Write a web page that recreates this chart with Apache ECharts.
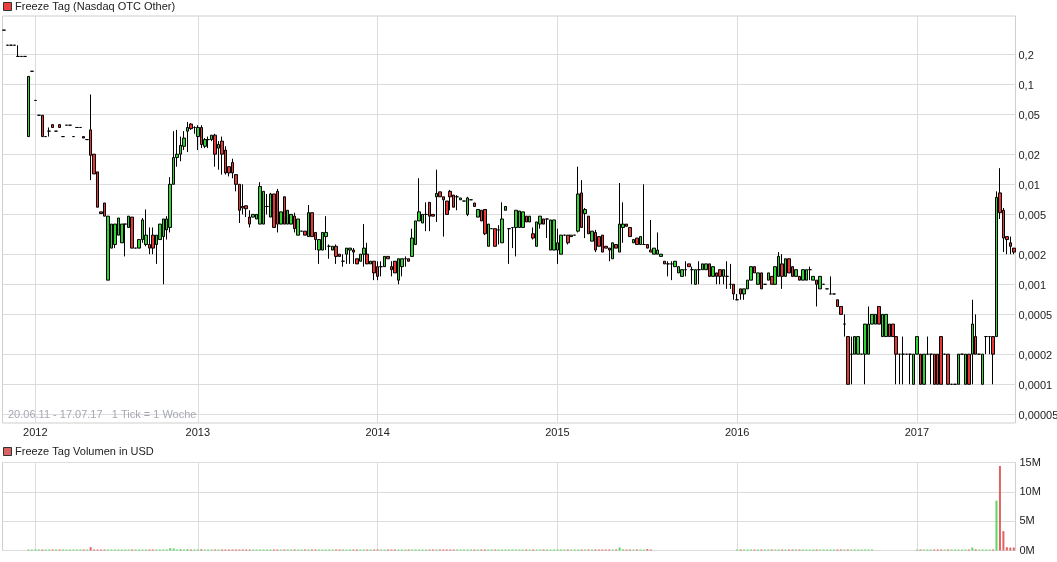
<!DOCTYPE html>
<html><head><meta charset="utf-8">
<script src="https://cdn.jsdelivr.net/npm/echarts@6/dist/echarts.min.js"></script>
<style>html,body{margin:0;padding:0;background:#fff}#c{width:1057px;height:562px}</style>
</head><body><div id="c"></div>
<script>
// weekly candles [open, close, low, high]
const candles2011 = [
[0.348,0.348,0.348,0.348],[0.246,0.246,0.246,0.246],[0.246,0.246,0.246,0.246],[0.246,0.246,0.246,0.246],
[0.19,0.19,0.19,0.246],[0.19,0.19,0.19,0.19],[0.19,0.19,0.19,0.19],[0.03,0.12,0.03,0.12],[0.135,0.135,0.135,0.135]
];
const candles2012 = [
[0.069,0.069,0.069,0.069],[0.049,0.049,0.049,0.049],[0.049,0.03,0.03,0.049],[0.03,0.03,0.03,0.03],
[0.034,0.034,0.03,0.037],[0.0395,0.037,0.037,0.0395],[0.034,0.034,0.034,0.034],[0.0395,0.037,0.037,0.0395],
[0.03,0.03,0.03,0.03],[0.039,0.039,0.039,0.039],[0.039,0.039,0.039,0.039],[0.03,0.03,0.03,0.03],
[0.037,0.037,0.037,0.037],[0.037,0.037,0.037,0.037],[0.03,0.029,0.029,0.03],[0.028,0.028,0.028,0.028],
[0.035,0.0195,0.011,0.079],[0.02,0.0127,0.0127,0.02],[0.0133,0.0059,0.0059,0.0133],[0.0053,0.0051,0.0051,0.0053],
[0.0065,0.0048,0.0048,0.0065],[0.0011,0.0048,0.0011,0.0048],[0.0023,0.004,0.0023,0.004],[0.0025,0.004,0.0023,0.004],
[0.0031,0.0046,0.0031,0.0046],[0.0026,0.004,0.0026,0.004],[0.004,0.004,0.0019,0.004],[0.0037,0.0048,0.0037,0.0048],
[0.0047,0.0023,0.0023,0.0047],[0.0023,0.0023,0.0023,0.0023],[0.0023,0.0028,0.0023,0.0028],[0.0028,0.0044,0.0026,0.0046],
[0.0025,0.0031,0.0024,0.0056],[0.0025,0.0023,0.002,0.0037],[0.0031,0.0023,0.002,0.0037],[0.0025,0.0031,0.0016,0.0031],
[0.0028,0.004,0.0028,0.004],[0.003,0.0045,0.001,0.0045],[0.0035,0.0045,0.0028,0.0048],[0.0037,0.01,0.0033,0.0118],
[0.01,0.0185,0.01,0.034],[0.0185,0.02,0.015,0.035],[0.02,0.0245,0.017,0.03],[0.024,0.029,0.022,0.034],
[0.034,0.037,0.021,0.042],[0.04,0.036,0.035,0.041],[0.037,0.037,0.032,0.038]
];
const candles2013 = [
[0.03,0.037,0.022,0.039],[0.037,0.025,0.023,0.039],[0.024,0.028,0.023,0.029],[0.028,0.028,0.023,0.03],
[0.028,0.031,0.027,0.031],[0.031,0.02,0.015,0.032],[0.023,0.025,0.014,0.027],[0.027,0.02,0.0125,0.03],
[0.022,0.013,0.0125,0.024],[0.015,0.013,0.012,0.015],[0.0165,0.013,0.0115,0.018],[0.0125,0.01,0.0085,0.0125],
[0.01,0.0055,0.0041,0.01],[0.006,0.0058,0.005,0.01],[0.0061,0.0057,0.0047,0.0061],[0.0047,0.004,0.0037,0.0055],
[0.0047,0.005,0.0047,0.005],[0.0045,0.005,0.0045,0.005],[0.004,0.0095,0.004,0.0105],[0.004,0.0085,0.004,0.0085],
[0.006,0.006,0.005,0.008],[0.0047,0.008,0.0047,0.0082],[0.008,0.0037,0.0037,0.008],[0.0085,0.004,0.0033,0.009],
[0.004,0.0053,0.004,0.0053],[0.0075,0.004,0.004,0.0075],[0.004,0.0055,0.004,0.0055],[0.004,0.005,0.004,0.005],
[0.0048,0.0036,0.0033,0.0052],[0.0031,0.0045,0.0031,0.0045],[0.0034,0.0034,0.0034,0.0034],[0.0034,0.0031,0.0031,0.0034],
[0.003,0.0052,0.003,0.0062],[0.0052,0.003,0.003,0.0052],[0.0033,0.0028,0.0022,0.0033],[0.0022,0.0028,0.0016,0.0028],
[0.0022,0.0033,0.0022,0.0033],[0.003,0.0033,0.0022,0.0048],[0.0024,0.0024,0.0018,0.0025],[0.0022,0.0024,0.0022,0.0024],
[0.0024,0.0019,0.0016,0.0025],[0.002,0.0019,0.0019,0.002],[0.0017,0.0017,0.0015,0.002],[0.002,0.0023,0.0016,0.0023],
[0.0022,0.0023,0.0016,0.0023],[0.0022,0.0021,0.0016,0.0023],[0.0018,0.0016,0.0016,0.0018],[0.0017,0.002,0.0017,0.002],
[0.002,0.0023,0.0015,0.004],[0.002,0.0016,0.0016,0.0026],[0.0016,0.0017,0.0016,0.0017],[0.0017,0.0013,0.0011,0.0017]
];
const candles2014 = [
[0.0015,0.0012,0.0011,0.0017],[0.0015,0.0015,0.0012,0.0017],[0.0015,0.0019,0.0015,0.0019],[0.0019,0.0018,0.0018,0.0019],
[0.0015,0.0014,0.0012,0.0017],[0.0017,0.0013,0.0013,0.0017],[0.0011,0.0018,0.001,0.0018],[0.0015,0.0018,0.0012,0.0018],
[0.0018,0.0018,0.0015,0.0019],[0.0018,0.0017,0.0017,0.0018],[0.0019,0.0029,0.0019,0.0036],[0.0025,0.0043,0.0025,0.0043],
[0.0043,0.0053,0.0043,0.0115],[0.0041,0.005,0.0041,0.005],[0.005,0.005,0.0034,0.0066],[0.0066,0.0048,0.0034,0.0066],
[0.005,0.0048,0.0048,0.005],[0.0075,0.0081,0.0042,0.014],[0.0084,0.0075,0.0075,0.0084],[0.0075,0.007,0.003,0.0075],
[0.0068,0.005,0.005,0.0068],[0.0085,0.0075,0.0055,0.0088],[0.0078,0.0059,0.0059,0.0078],[0.0075,0.0075,0.0055,0.0078],
[0.007,0.0073,0.007,0.0073],[0.0068,0.0068,0.0068,0.0068],[0.005,0.0073,0.0048,0.0075],[0.007,0.007,0.007,0.007],
[0.0065,0.006,0.006,0.0065],[0.0047,0.0056,0.0047,0.0056],[0.0055,0.0043,0.0043,0.0055],[0.0056,0.0032,0.0031,0.0056],
[0.0024,0.004,0.0024,0.004],[0.0036,0.0036,0.0036,0.0036],[0.0036,0.0024,0.0024,0.0036],[0.0035,0.0035,0.0025,0.0039],
[0.0026,0.0045,0.0026,0.0066],[0.0055,0.006,0.0055,0.006],[0.0036,0.0036,0.0016,0.0036],[0.0037,0.0037,0.0023,0.0037],
[0.0037,0.0055,0.0019,0.0055],[0.0037,0.0054,0.0037,0.0054],[0.0037,0.0053,0.0037,0.0053],[0.0048,0.0042,0.0042,0.0048],
[0.0042,0.0048,0.0042,0.0048],[0.0032,0.0029,0.0028,0.0037],[0.0024,0.0042,0.0024,0.0042],[0.004,0.0048,0.0036,0.0048],
[0.0045,0.004,0.004,0.0045],[0.0045,0.0045,0.0029,0.0045],[0.0022,0.0044,0.0022,0.0044],[0.0022,0.0044,0.0022,0.0044]
];
const candles2015 = [
[0.0022,0.0026,0.0016,0.0036],[0.002,0.0031,0.002,0.0031],[0.0031,0.0031,0.0031,0.0031],[0.0031,0.0026,0.0025,0.0031],
[0.003,0.0031,0.003,0.0031],[0.0031,0.0031,0.0031,0.0031],[0.0034,0.008,0.0033,0.015],[0.0082,0.0037,0.0037,0.011],
[0.0051,0.0056,0.0029,0.0058],[0.0048,0.0032,0.0032,0.0048],[0.0027,0.0034,0.0027,0.0034],[0.0033,0.0022,0.0021,0.0035],
[0.003,0.0024,0.0024,0.003],[0.0031,0.0021,0.0021,0.0031],[0.0024,0.0023,0.0023,0.0024],[0.0023,0.0022,0.0017,0.0023],
[0.0018,0.0026,0.0018,0.0026],[0.0025,0.0023,0.0023,0.0025],[0.0021,0.004,0.0021,0.0103],[0.0037,0.004,0.0026,0.0066],
[0.004,0.0038,0.0038,0.004],[0.0037,0.003,0.003,0.0037],[0.0026,0.0028,0.0026,0.0028],[0.0029,0.0025,0.0025,0.0029],
[0.0025,0.003,0.0025,0.003],[0.0025,0.0025,0.0025,0.01],[0.0025,0.0023,0.0023,0.0025],[0.0022,0.0021,0.0021,0.0044],
[0.002,0.0023,0.002,0.0023],[0.002,0.0022,0.002,0.0033],[0.0019,0.002,0.0019,0.002],[0.0017,0.0016,0.0016,0.0017],
[0.0016,0.0016,0.0012,0.0017],[0.0016,0.0016,0.0011,0.0017],[0.0015,0.0017,0.0015,0.0017],[0.0013,0.0015,0.0013,0.0015],
[0.0012,0.0014,0.0012,0.0014],[0.0014,0.0014,0.0012,0.0017],[0.0016,0.0015,0.0015,0.0016],[0.0014,0.0014,0.001,0.0015],
[0.001,0.0014,0.001,0.0014],[0.0014,0.0014,0.001,0.0017],[0.0014,0.0016,0.0014,0.0016],[0.0014,0.0016,0.0014,0.0016],
[0.0016,0.0012,0.0012,0.0016],[0.0012,0.0015,0.0012,0.0015],[0.0013,0.0012,0.001,0.0013],[0.0014,0.0012,0.001,0.0014],
[0.0012,0.0014,0.001,0.0014],[0.0012,0.0012,0.0009,0.0017],[0.001,0.001,0.0009,0.0016],[0.001,0.0008,0.0007,0.001]
];
const candles2016 = [
[0.0007,0.0007,0.0007,0.0008],[0.0009,0.0008,0.0007,0.0009],[0.0008,0.0009,0.0007,0.0009],[0.0009,0.0011,0.0009,0.0011],
[0.0011,0.0015,0.0011,0.0015],[0.0015,0.0013,0.0013,0.0015],[0.001,0.0013,0.001,0.0013],[0.0013,0.0009,0.0009,0.0013],
[0.001,0.001,0.001,0.001],[0.0011,0.0013,0.0011,0.0013],[0.0012,0.001,0.001,0.0012],[0.001,0.0015,0.001,0.0015],
[0.0012,0.0019,0.0012,0.0021],[0.0016,0.0012,0.0009,0.002],[0.0012,0.0018,0.0012,0.0018],[0.0018,0.0013,0.0013,0.0018],
[0.0015,0.0012,0.0012,0.0015],[0.0012,0.0014,0.0012,0.0014],[0.0012,0.0011,0.0011,0.0012],[0.0011,0.0014,0.0011,0.0014],
[0.0011,0.0014,0.0011,0.0014],[0.0014,0.0014,0.0011,0.0015],[0.0011,0.0012,0.0011,0.0012],[0.0011,0.001,0.0006,0.0011],
[0.0009,0.0012,0.0009,0.0012],[0.001,0.001,0.001,0.001],[0.0009,0.0009,0.0009,0.0009],[0.0008,0.0008,0.0008,0.0012],
[0.0008,0.0008,0.0008,0.0008],[0.0007,0.0006,0.0006,0.0007],[0.0006,0.0005,0.0005,0.0006],[0.0004,0.0004,0.0003,0.0005],
[0.0003,0.0001,0.0001,0.0003],[0.0002,0.0002,0.0001,0.0003],[0.0002,0.0003,0.0002,0.0003],[0.0002,0.0003,0.0002,0.0003],
[0.0002,0.0002,0.0002,0.0002],[0.0002,0.0004,0.0001,0.0004],[0.0002,0.0004,0.0002,0.0006],[0.0004,0.0005,0.0004,0.0005],
[0.0004,0.0005,0.0004,0.0005],[0.0006,0.0004,0.0004,0.0006],[0.0003,0.0005,0.0003,0.0005],[0.0003,0.0005,0.0003,0.0005],
[0.0004,0.0003,0.0003,0.0004],[0.0004,0.0003,0.0003,0.0004],[0.0003,0.0002,0.0001,0.0003],[0.0002,0.0002,0.0001,0.0002],
[0.0002,0.0002,0.0001,0.0003],[0.0002,0.0002,0.0002,0.0002],[0.0002,0.0002,0.0001,0.0002],[0.0001,0.0002,0.0001,0.0002]
];
const candles2017 = [
[0.0002,0.0003,0.0002,0.0003],[0.0002,0.0001,0.0001,0.0002],[0.0001,0.0002,0.0001,0.0002],[0.0002,0.0002,0.0002,0.0003],
[0.0002,0.0002,0.0001,0.0002],[0.0002,0.0001,0.0001,0.0002],[0.0002,0.0001,0.0001,0.0002],[0.0003,0.0001,0.0001,0.0003],
[0.0002,0.0002,0.0002,0.0002],[0.0002,0.0001,0.0001,0.0002],[0.0001,0.0001,0.0001,0.0001],[0.0001,0.0001,0.0001,0.0001],
[0.0001,0.0002,0.0001,0.0002],[0.0002,0.0002,0.0002,0.0002],[0.0001,0.0002,0.0001,0.0002],[0.0002,0.0001,0.0001,0.0002],
[0.0002,0.0004,0.0001,0.0007],[0.0003,0.0002,0.0002,0.0005],[0.0002,0.0002,0.0002,0.0002],[0.0001,0.0002,0.0001,0.0002],
[0.0003,0.0003,0.0002,0.0003],[0.0003,0.0003,0.0002,0.0003],[0.0003,0.0002,0.0001,0.0003],[0.0003,0.0074,0.0003,0.0085],
[0.0082,0.0052,0.0045,0.0145],[0.0055,0.0029,0.0021,0.0058],[0.003,0.0028,0.002,0.003],[0.0026,0.0024,0.002,0.003],
[0.0023,0.0021,0.002,0.0023]
];
// weekly volume in USD
const volume2011 = [0,0,0,0,0,0,0,20000,20000];
const volume2012 = [20000,20000,20000,20000,20000,20000,20000,20000,20000,20000,20000,20000,20000,20000,20000,20000,
 570000,20000,20000,20000,20000,20000,20000,20000,20000,20000,20000,20000,20000,20000,20000,20000,20000,20000,20000,20000,20000,20000,20000,
 400000,350000,20000,250000,20000,250000,20000,20000];
const volume2013 = [20000,200000,20000,20000,20000,20000,20000,20000,20000,20000,20000,20000,20000,20000,20000,20000,20000,20000,20000,20000,
 20000,20000,20000,20000,20000,20000,20000,20000,20000,20000,20000,20000,20000,20000,20000,20000,20000,20000,20000,20000,
 20000,20000,20000,20000,20000,20000,20000,20000,20000,20000,20000,20000];
const volume2014 = [20000,20000,20000,20000,20000,20000,20000,20000,20000,20000,20000,20000,20000,20000,20000,20000,20000,20000,20000,20000,
 20000,20000,20000,20000,20000,20000,20000,20000,20000,20000,20000,20000,20000,20000,20000,20000,20000,20000,20000,20000,
 20000,20000,20000,20000,20000,20000,20000,20000,20000,20000,20000,20000];
const volume2015 = [20000,20000,20000,20000,20000,20000,20000,20000,20000,20000,20000,20000,20000,20000,20000,20000,20000,20000,500000,200000,
 20000,20000,20000,20000,20000,20000,250000,20000,0,0,0,0,0,0,0,0,0,0,0,0,0,0,0,0,0,0,0,0,0,0,0,0];
const volume2016 = [20000,20000,20000,20000,20000,20000,20000,20000,20000,20000,20000,20000,20000,20000,20000,20000,20000,20000,20000,20000,
 20000,20000,20000,20000,20000,20000,20000,20000,20000,20000,20000,20000,20000,20000,20000,20000,20000,20000,20000,20000,
 0,0,0,0,0,0,0,0,0,0,0,0];
const volume2017 = [20000,20000,20000,20000,20000,20000,20000,20000,20000,20000,20000,20000,20000,20000,20000,20000,
 500000,200000,20000,20000,20000,20000,20000,8500000,14400000,3300000,560000,500000,500000];

const yearLabels = ['2012','2013','2014','2015','2016','2017'];
const yearStarts = [9,56,108,160,212,264];
const priceTicks = [0.2,0.1,0.05,0.02,0.01,0.005,0.002,0.001,0.0005,0.0002,0.0001,0.00005];
const priceTickLabels = ['0,2','0,1','0,05','0,02','0,01','0,005','0,002','0,001','0,0005','0,0002','0,0001','0,00005'];
const volumeTicks = [0,5000000,10000000,15000000];

const candles = [].concat(candles2011,candles2012,candles2013,candles2014,candles2015,candles2016,candles2017);
const volumes = [].concat(volume2011,volume2012,volume2013,volume2014,volume2015,volume2016,volume2017);
const weeks = candles.map((c,i)=>new Date(Date.UTC(2017,6,17)-(candles.length-1-i)*7*86400000).toISOString().slice(0,10));

const FONT = "'Liberation Sans', Arial, Helvetica, sans-serif";
const gridLine = {color:'#dcdcdc', width:1, type:'solid'};
const chart = echarts.init(document.getElementById('c'), null, {renderer:'canvas'});
const yearLines = yearStarts.map(i=>({xAxis:weeks[i], label:{show:false}}));

chart.setOption({
  animation:false,
  textStyle:{fontFamily:FONT},
  grid:[
    {left:2.5, right:41.5, top:16, height:407, show:true, borderColor:'#cfcfcf', borderWidth:1, containLabel:false, outerBoundsMode:'none'},
    {left:2.5, right:41.5, top:462.5, height:88, show:true, borderColor:'#cfcfcf', borderWidth:1, containLabel:false, outerBoundsMode:'none'}
  ],
  xAxis:[
    {type:'category', gridIndex:0, data:weeks, boundaryGap:true,
     axisLine:{show:false}, axisTick:{show:false}, splitLine:{show:false},
     axisLabel:{interval:(i)=>yearStarts.indexOf(i)>=0, formatter:(v,i)=>yearLabels[yearStarts.indexOf(i)]||'',
       color:'#222', fontSize:11, margin:4, fontFamily:FONT}},
    {type:'category', gridIndex:1, data:weeks, boundaryGap:true,
     axisLine:{show:false}, axisTick:{show:false}, splitLine:{show:false}, axisLabel:{show:false}}
  ],
  yAxis:[
    {type:'log', logBase:10, gridIndex:0, min:0.0000410, max:0.482,
     axisLabel:{show:false}, axisLine:{show:false}, axisTick:{show:false}, splitLine:{show:false}},
    {type:'value', gridIndex:1, position:'right', min:volumeTicks[0], max:volumeTicks[3], interval:volumeTicks[1],
     axisLabel:{formatter:v=>(v/1e6)+'M', color:'#222', fontSize:11, margin:4, fontFamily:FONT},
     axisLine:{show:false}, axisTick:{show:false}, splitLine:{show:true, lineStyle:gridLine}}
  ],
  series:[
    {type:'candlestick', xAxisIndex:0, yAxisIndex:0, data:candles, barWidth:3, z:3,
     itemStyle:{color:'#2fd62f', color0:'#e83535', borderColor:'#000', borderColor0:'#000', borderColorDoji:'#000', borderWidth:1},
     emphasis:{disabled:true},
     markLine:{silent:true, z:1, animation:false, precision:8, symbol:['none','none'], lineStyle:gridLine, emphasis:{disabled:true},
       label:{show:true, position:'end', formatter:'{b}', color:'#222', fontSize:11, distance:3, offset:[0,1.5], fontFamily:FONT},
       data: priceTicks.map((v,k)=>({name:priceTickLabels[k], yAxis:v})).concat(yearLines)}
    },
    {type:'bar', xAxisIndex:1, yAxisIndex:1, data:volumes.map(v=>v||'-'), barWidth:2, barMinHeight:1, z:3,
     itemStyle:{color:p=>candles[p.dataIndex][1]>=candles[p.dataIndex][0]?'#5fd65f':'#e06262'},
     emphasis:{disabled:true},
     markLine:{silent:true, z:1, animation:false, symbol:['none','none'], lineStyle:gridLine, emphasis:{disabled:true},
       label:{show:false}, data:yearLines}
    }
  ],
  graphic:[
    {type:'rect', shape:{x:3.5,y:2.5,width:8,height:8}, style:{fill:'#ec4040', stroke:'#333', lineWidth:1}},
    {type:'text', x:15, y:6.5, style:{text:'Freeze Tag (Nasdaq OTC Other)', fill:'#222', font:'11px '+FONT, textVerticalAlign:'middle', verticalAlign:'middle'}},
    {type:'rect', shape:{x:3.5,y:447.5,width:8,height:8}, style:{fill:'#d96262', stroke:'#333', lineWidth:1}},
    {type:'text', x:15, y:451.5, style:{text:'Freeze Tag Volumen in USD', fill:'#222', font:'11px '+FONT, textVerticalAlign:'middle', verticalAlign:'middle'}},
    {type:'text', x:8, y:415, z:10, style:{text:'20.06.11 - 17.07.17   1 Tick = 1 Woche', fill:'#a6a8b4', font:'11px '+FONT, textVerticalAlign:'middle', verticalAlign:'middle'}}
  ]
});
</script>
</body></html>
